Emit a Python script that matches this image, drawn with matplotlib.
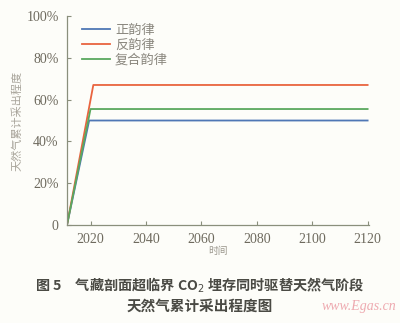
import matplotlib.pyplot as plt

plt.rcParams['font.family'] = ['Liberation Serif', 'Noto Sans CJK SC', 'DejaVu Sans']

# 数据
years_zheng = [2011.5, 2019.5, 2120]
vals_zheng = [0, 50, 50]
years_fan = [2011.5, 2021, 2120]
vals_fan = [0, 67, 67]
years_fuhe = [2011.5, 2020, 2120]
vals_fuhe = [0, 55.5, 55.5]
labels = ['正韵律', '反韵律', '复合韵律']
xticks = [2020, 2040, 2060, 2080, 2100, 2120]
yticks = [0, 20, 40, 60, 80, 100]
ytick_labels = ['0', '20%', '40%', '60%', '80%', '100%']

bg = '#fdfdf9'
axis_c = '#8a8f7c'
text_c = '#6e6a5e'

fig = plt.figure(figsize=(4.0, 3.23), dpi=100, facecolor=bg)
ax = fig.add_axes([0.1675, 0.3034, 0.755, 0.647], facecolor=bg)

ax.plot(years_zheng, vals_zheng, color='#4f77b5', lw=1.3, label=labels[0])
ax.plot(years_fan, vals_fan, color='#e9643f', lw=1.3, label=labels[1])
ax.plot(years_fuhe, vals_fuhe, color='#5aa85e', lw=1.3, label=labels[2])

ax.set_xlim(2011.5, 2120.5)
ax.set_ylim(0, 100)
ax.set_xticks(xticks)
ax.set_yticks(yticks)
ax.set_yticklabels(ytick_labels)

for s in ['top', 'right']:
    ax.spines[s].set_visible(False)
for s in ['left', 'bottom']:
    ax.spines[s].set_color(axis_c)
    ax.spines[s].set_linewidth(0.9)
ax.tick_params(direction='in', length=3, width=0.8, color=axis_c,
               labelcolor=text_c, labelsize=10, pad=6)

ax.set_xlabel('时间', fontsize=7, color='#9a968c', family='Noto Sans CJK SC', labelpad=0)
ax.set_ylabel('天然气累计采出程度', fontsize=8, color='#a8a49a', family='Noto Sans CJK SC', labelpad=3)

leg = ax.legend(loc='upper left', bbox_to_anchor=(0.01, 1.02), frameon=False,
                prop={'family': 'Noto Sans CJK SC', 'size': 9.5}, handlelength=2.1,
                labelspacing=0.15, handletextpad=0.4)
for t in leg.get_texts():
    t.set_color('#8a877e')

fig.text(0.5, 0.117, '图 5　气藏剖面超临界 CO$_2$ 埋存同时驱替天然气阶段', ha='center', va='center',
         fontsize=10.2, color='#4a4a44', family=['Noto Sans CJK SC', 'DejaVu Sans'], weight='bold')
fig.text(0.5, 0.052, '天然气累计采出程度图', ha='center', va='center',
         fontsize=10.5, color='#4a4a44', family='Noto Sans CJK SC', weight='bold')
fig.text(0.99, 0.052, 'www.Egas.cn', ha='right', va='center', fontsize=10,
         color='#eeaab0', style='italic', family='Liberation Serif')

fig.savefig('out.png', dpi=100, facecolor=bg)
